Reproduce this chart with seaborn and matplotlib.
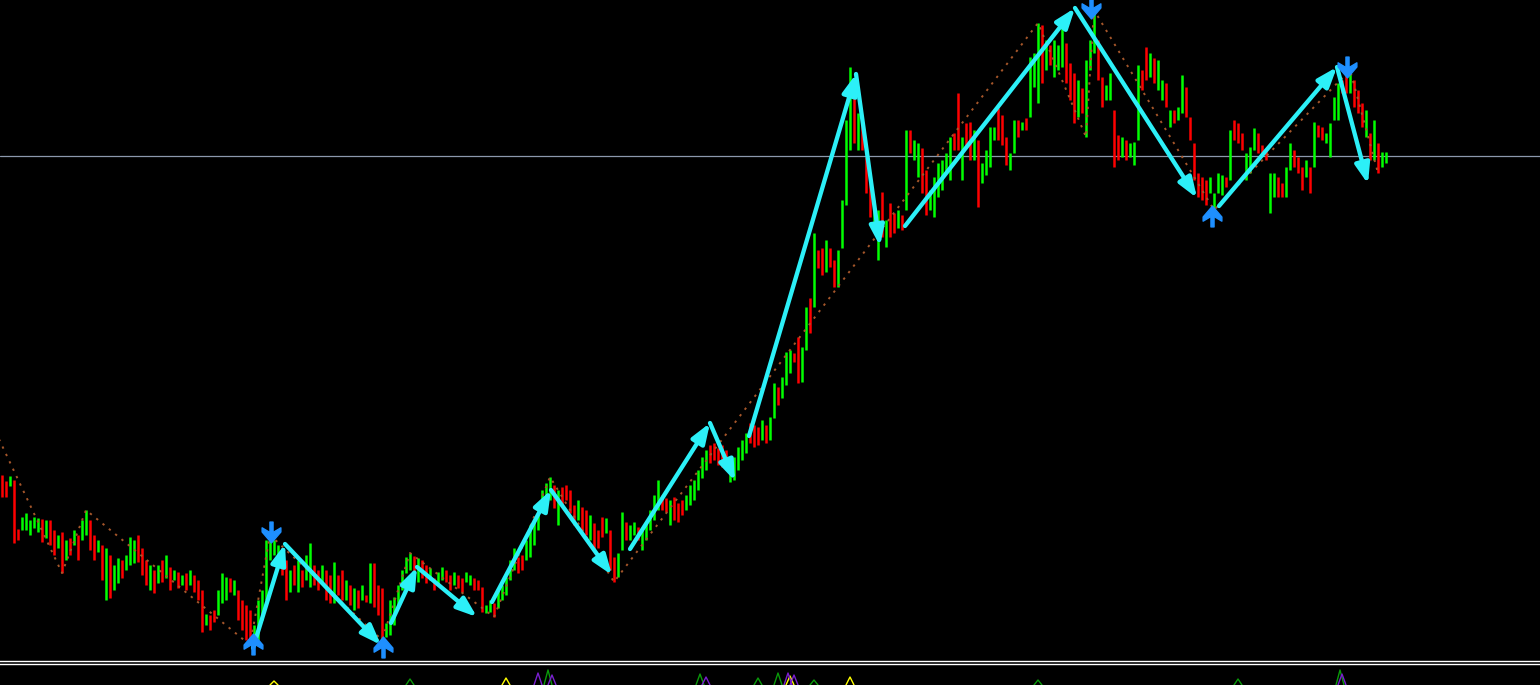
import numpy as np
import pandas as pd
import matplotlib
matplotlib.use("Agg")
import matplotlib.pyplot as plt
import seaborn as sns
from matplotlib.path import Path

# price bars (high / low), one per bar
highs = [
    210, 204, 209, 205, 156, 168, 172, 165, 168, 167,
    166, 165, 165, 155, 150, 153, 145, 147, 155, 150,
    165, 175, 165, 150, 145, 140, 137, 130, 120, 127,
    125, 130, 148, 145, 150, 137, 125, 120, 115, 120,
    125, 130, 118, 115, 113, 110, 112, 115, 110, 105,
    95, 71, 70, 75, 95, 112, 108, 107, 105, 95,
    85, 80, 75, 60, 85, 95, 145, 150, 145, 140,
    137, 125, 115, 120, 125, 115, 130, 142, 120, 115,
    120, 115, 110, 123, 110, 115, 105, 100, 97, 95,
    100, 90, 122, 122, 100, 97, 62, 85, 88, 100,
    115, 128, 132, 129, 127, 125, 120, 117, 107, 113,
    118, 115, 110, 113, 110, 107, 113, 110, 107, 105,
    98, 80, 85, 82, 95, 100, 108, 125, 137, 128,
    130, 145, 160, 165, 180, 195, 202, 208, 200, 195,
    198, 200, 195, 180, 185, 178, 175, 170, 162, 155,
    168, 167, 155, 128, 132, 173, 163, 160, 163, 158,
    155, 162, 175, 190, 205, 190, 187, 185, 188, 182,
    185, 190, 200, 205, 215, 228, 235, 240, 242, 237,
    240, 235, 225, 228, 238, 245, 252, 262, 260, 258,
    265, 260, 268, 302, 298, 308, 333, 335, 332, 348,
    338, 378, 387, 452, 435, 437, 445, 437, 425, 435,
    485, 565, 618, 595, 572, 565, 528, 508, 485, 475,
    493, 465, 482, 472, 475, 470, 555, 555, 545, 542,
    537, 515, 495, 508, 522, 525, 532, 548, 552, 592,
    548, 562, 563, 555, 545, 522, 535, 558, 558, 577,
    570, 548, 532, 565, 565, 563, 567, 628, 632, 662,
    660, 645, 640, 645, 640, 662, 642, 622, 612, 605,
    597, 625, 645, 675, 645, 608, 600, 612, 575, 550,
    548, 545, 542, 543, 620, 615, 638, 632, 627, 625,
    605, 602, 575, 575, 578, 610, 598, 568, 542, 512,
    508, 505, 508, 492, 512, 510, 508, 555, 565, 562,
    552, 532, 538, 557, 552, 540, 535, 512, 512, 508,
    502, 518, 542, 535, 528, 518, 525, 518, 563, 560,
    558, 552, 562, 588, 602, 605, 610, 615, 605, 595,
    582, 575, 552, 565, 542, 533, 533,
]
lows = [
    188, 188, 199, 142, 145, 155, 155, 150, 157, 153,
    143, 147, 140, 130, 137, 112, 125, 130, 140, 125,
    145, 150, 135, 125, 133, 105, 85, 87, 95, 102,
    107, 115, 120, 122, 123, 110, 100, 95, 92, 102,
    103, 107, 95, 105, 97, 100, 95, 100, 93, 85,
    53, 60, 55, 63, 70, 82, 85, 93, 90, 65,
    55, 45, 40, 40, 45, 65, 85, 125, 130, 125,
    110, 85, 93, 100, 93, 98, 105, 98, 100, 95,
    102, 85, 82, 82, 90, 85, 85, 80, 75, 77,
    85, 83, 82, 78, 70, 45, 48, 50, 60, 80,
    95, 112, 115, 110, 103, 107, 102, 105, 95, 100,
    105, 103, 95, 100, 97, 93, 103, 100, 95, 95,
    73, 72, 73, 68, 77, 85, 90, 105, 115, 112,
    115, 125, 128, 140, 155, 175, 180, 185, 177, 160,
    180, 185, 172, 160, 165, 155, 150, 145, 135, 137,
    148, 152, 115, 103, 108, 135, 145, 145, 150, 145,
    135, 145, 155, 165, 175, 175, 173, 160, 165, 163,
    170, 175, 180, 185, 195, 207, 215, 222, 225, 220,
    218, 215, 203, 205, 215, 225, 232, 242, 238, 240,
    245, 242, 245, 267, 280, 287, 300, 312, 323, 302,
    303, 335, 352, 378, 417, 410, 413, 418, 398, 398,
    437, 480, 535, 542, 535, 535, 492, 468, 455, 425,
    448, 438, 448, 452, 457, 455, 475, 532, 525, 508,
    492, 470, 475, 468, 488, 495, 512, 505, 535, 535,
    505, 538, 525, 525, 478, 502, 510, 518, 545, 545,
    540, 520, 515, 532, 548, 555, 555, 568, 598, 582,
    602, 615, 620, 608, 615, 618, 602, 585, 562, 568,
    572, 548, 615, 632, 605, 578, 585, 585, 518, 525,
    528, 525, 528, 520, 545, 595, 605, 608, 602, 595,
    585, 578, 558, 562, 565, 572, 568, 545, 505, 488,
    485, 480, 492, 475, 492, 490, 498, 505, 545, 542,
    535, 505, 512, 535, 532, 532, 525, 472, 488, 488,
    488, 488, 515, 518, 512, 495, 508, 492, 518, 548,
    545, 542, 528, 565, 565, 592, 592, 592, 578, 572,
    558, 548, 525, 525, 512, 518, 522,
]
# G = bull bar, R = bear bar
direction = "".join([
    "RRGRRGGGGG", "RGRRGRGRGR", "GGRRGRGRGG", "RGGGRRRGRG", "RGRGRGRGRR",
    "RGRRGGGRGR", "RRRGGGGGGG", "RRGRGRGGRR", "GRRGRRGRGR", "GRGRRRGGGG",
    "GGGRGRRGRG", "GRRGRRGGRR", "RGGRGGGGGR", "RGGGGGGGRG", "RRRRGRRGRR",
    "RGRRGGRGGR", "GGGGGRRGRR", "RGGGGGGRRR", "RRGGGGGRRR", "GRGGRGGGRR",
    "GGRGRRGRRG", "GGGRGRRRGG", "RGRRGRGRGG", "RRGGGGGGRR", "GRRGRGGGGR",
    "RRGGRGRGGG", "RGRGGGRRRG", "RGGGRRGGRR", "GRGGGRRGRG", "GRGRGGRRRR",
    "RRGGGGRGRR", "RGGGRRRGGR", "RGGRRRGRGR", "RGGGGRRGRR", "RGRGRGG",
])

# zigzag swing points (dotted)
zigzag_bar = [-3, 15, 21, 62, 67, 95, 102, 123, 137, 153, 259, 271, 273, 303, 337, 344]
zigzag_price = [265, 112, 175, 40, 150, 45, 132, 68, 208, 103, 662, 548, 675, 475, 615, 512]

# wave arrows
wave_start_bar = [62.75, 70.75, 97.25, 103.75, 122.5, 137.25, 157, 177, 186.75, 213.5, 225.75, 268.25, 304.25, 333.75]
wave_start_price = [37, 141, 62, 118, 83, 195, 136, 262, 249, 611, 459, 677, 479, 618]
wave_end_bar = [70.75, 94.75, 103.75, 118.75, 137.25, 152.5, 177, 183.25, 213.5, 219.5, 268.25, 298.75, 333.75, 341.5]
wave_end_price = [141, 40, 118, 68, 195, 110, 262, 204, 611, 439, 677, 487, 618, 501]

# buy / sell signal arrows
signal_bar = [62.75, 67.25, 95.25, 272.25, 302.5, 336.25]
signal_price = [41, 153, 38, 677, 469, 618]
signal_kind = ["up", "down", "up", "down", "up", "down"]

level_price = 529

# oscillator window spikes
osc_yellow_bar = [68, 126, 197, 212]
osc_yellow_val = [4, 7, 9, 8]
osc_green_bar = [102, 136.5, 174.5, 189, 194, 203, 259, 309, 334.5]
osc_green_val = [6, 15, 11, 7, 12, 5, 5, 6, 15]
osc_purple_bar = [134, 137.5, 176, 196.5, 198, 335]
osc_purple_val = [12, 10, 8, 12, 10, 11]

assert len(highs) == len(lows) == len(direction)

bars = pd.DataFrame({"bar": np.arange(len(highs)), "high": highs, "low": lows,
                     "dir": list(direction)})
bars["color"] = bars["dir"].map({"G": "#00FF00", "R": "#FF0000"})

sns.set_style("dark", {"axes.facecolor": "black", "figure.facecolor": "black"})

fig = plt.figure(figsize=(15.4, 6.85), dpi=100)
ax = fig.add_axes([0, 24 / 685, 1, 661 / 685])
sub = fig.add_axes([0, 0, 1, 21 / 685])

for a in (ax, sub):
    a.set_facecolor("black")
    a.set_xlim(-0.5, 384.5)
    a.set_xticks([])
    a.set_yticks([])
    for s in a.spines.values():
        s.set_visible(False)
ax.set_ylim(24, 685)
sub.set_ylim(0, 21)
ax.spines["bottom"].set_visible(True)
ax.spines["bottom"].set_color("white")
ax.spines["bottom"].set_linewidth(1.0)
sub.spines["top"].set_visible(True)
sub.spines["top"].set_color("white")
sub.spines["top"].set_linewidth(1.0)

ax.axhline(level_price, color="#8C98AC", lw=0.9, zorder=1)

ax.vlines(bars["bar"], bars["low"], bars["high"], colors=bars["color"], lw=1.8, zorder=2)

zz = pd.DataFrame({"bar": zigzag_bar, "price": zigzag_price})
sns.lineplot(data=zz, x="bar", y="price", ax=ax, sort=False, estimator=None,
             color="#A5562A", lw=1.4, linestyle=(0, (1.2, 3.0)), zorder=3)
ax.set_xlabel("")
ax.set_ylabel("")

for x0, y0, x1, y1 in zip(wave_start_bar, wave_start_price, wave_end_bar, wave_end_price):
    ax.annotate("", xy=(x1, y1), xytext=(x0, y0),
                arrowprops=dict(arrowstyle="-|>,head_length=0.6,head_width=0.22",
                                color="#2CF0F8", lw=3.1, shrinkA=0, shrinkB=0,
                                mutation_scale=20),
                zorder=5)

down_verts = [(-0.15, 1.0), (0.15, 1.0), (0.15, 0.0), (0.9, 0.45), (0.9, 0.05),
              (0.0, -1.0), (-0.9, 0.05), (-0.9, 0.45), (-0.15, 0.0), (-0.15, 1.0)]
down_marker = Path(down_verts, closed=True)
up_marker = Path([(x, -y) for x, y in down_verts], closed=True)
for b, p, k in zip(signal_bar, signal_price, signal_kind):
    ax.plot(b, p, marker=up_marker if k == "up" else down_marker, ms=15,
            color="#1E8FFF", mec="#1E8FFF", zorder=6)

for bl, vl, c in [(osc_yellow_bar, osc_yellow_val, "#FFFF00"),
                  (osc_green_bar, osc_green_val, "#0A9A0A"),
                  (osc_purple_bar, osc_purple_val, "#7A1FD0")]:
    for b, v in zip(bl, vl):
        sub.plot([b - 1.0, b, b + 1.0], [0, v, 0], color=c, lw=1.0)

fig.savefig("out.png", dpi=100, facecolor="black")
